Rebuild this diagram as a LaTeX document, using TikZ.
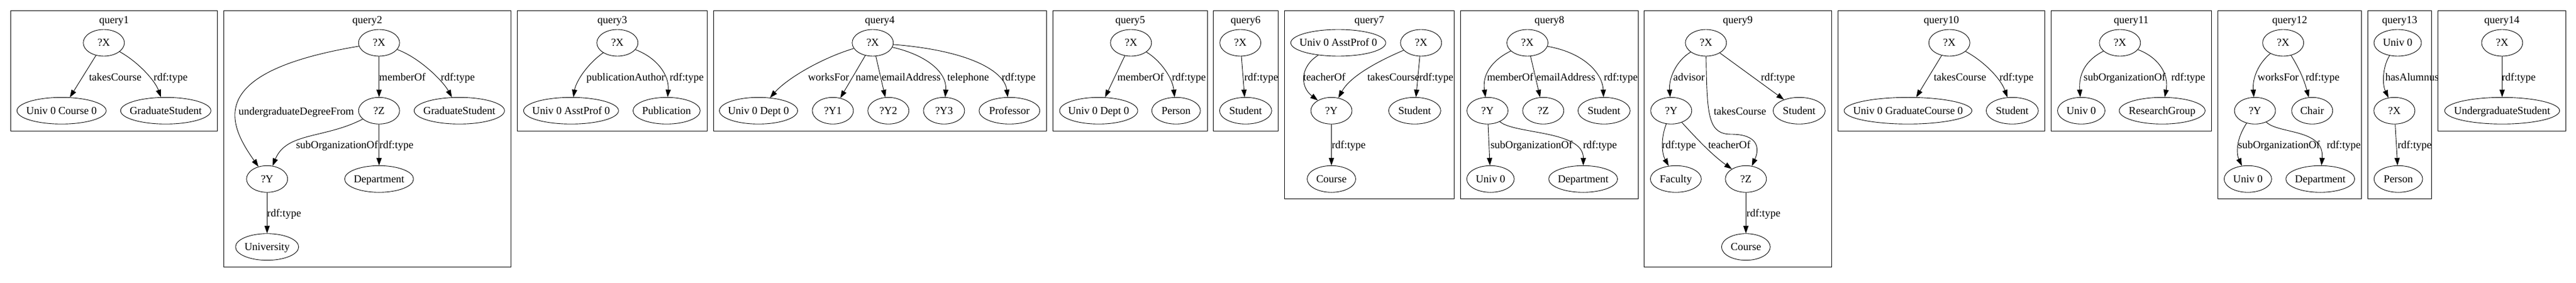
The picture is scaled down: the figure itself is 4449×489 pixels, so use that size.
\documentclass[tikz,border=0pt]{standalone}
\usepackage{fontspec}
\setmainfont{Liberation Serif}
\usetikzlibrary{shapes.geometric,arrows.meta}
\newcommand\gfont{\fontsize{18.5}{20}\selectfont}
\tikzset{
  nd/.style={draw, ellipse, line width=0.9pt, inner sep=0pt, minimum height=46pt,
             text height=12pt, text depth=0pt, font=\gfont},
  lb/.style={inner sep=0pt, text height=12pt, text depth=0pt, font=\gfont},
  cl/.style={draw, line width=1pt},
  ar/.style={line width=0.9pt, -{Triangle[length=13pt,width=9pt]}},
}
\newcommand\vn[4]{\node[nd, minimum width=#4pt] (#1) at #2 {\makebox[0pt]{#3}};}
\newcommand\el[3]{\node[lb] (#1) at #2 {#3};}
\begin{document}
\begin{tikzpicture}[x=1pt,y=-1pt]
\useasboundingbox (0,0) rectangle (4449,489);
\fill[white] (0,0) rectangle (4449,489);

% ---------- cluster frames ----------
\draw[cl] (18.5,18.5) rectangle (375.5,226.5);
\draw[cl] (386.5,18.5) rectangle (882.5,461.5);
\draw[cl] (893.5,18.5) rectangle (1221.5,226.5);
\draw[cl] (1232.5,18.5) rectangle (1807.5,226.5);
\draw[cl] (1818.5,18.5) rectangle (2085.5,226.5);
\draw[cl] (2095.5,18.5) rectangle (2207.5,226.5);
\draw[cl] (2218.5,18.5) rectangle (2511.5,343.5);
\draw[cl] (2522.5,18.5) rectangle (2829.5,343.5);
\draw[cl] (2839.5,18.5) rectangle (3163.5,461.5);
\draw[cl] (3174.5,18.5) rectangle (3531.5,226.5);
\draw[cl] (3542.5,18.5) rectangle (3819.5,226.5);
\draw[cl] (3830.5,18.5) rectangle (4078.5,343.5);
\draw[cl] (4089.5,18.5) rectangle (4199.5,343.5);
\draw[cl] (4210.5,18.5) rectangle (4431.5,226.5);

% ---------- titles ----------
\el{t1}{(197,35)}{query1}
\el{t2}{(634.4,35)}{query2}
\el{t3}{(1057.5,35)}{query3}
\el{t4}{(1519.5,35)}{query4}
\el{t5}{(1952,35)}{query5}
\el{t6}{(2151.4,35)}{query6}
\el{t7}{(2365,35)}{query7}
\el{t8}{(2676,35)}{query8}
\el{t9}{(3001.3,35)}{query9}
\el{t10}{(3353,35)}{query10}
\el{t11}{(3680.8,35)}{query11}
\el{t12}{(3954.6,35)}{query12}
\el{t13}{(4144.5,35)}{query13}
\el{t14}{(4320.9,35)}{query14}

% ---------- query1 ----------
\vn{q1x}{(179.3,74)}{?X}{71}
\vn{q1u}{(106.3,191.3)}{Univ 0 Course 0}{154}
\vn{q1g}{(286.3,191.3)}{GraduateStudent}{156}
\draw[ar] (q1x) -- (q1u);
\draw[ar] (q1x) .. controls (240,108) and (268,140) .. (q1g);
\el{q1l1}{(199,133.3)}{takesCourse}
\el{q1l2}{(294.7,133.3)}{rdf:type}

% ---------- query2 ----------
\vn{q2x}{(654.7,74)}{?X}{71}
\vn{q2z}{(654.7,191.3)}{?Z}{71}
\vn{q2g}{(793.3,191.3)}{GraduateStudent}{156}
\vn{q2y}{(461.3,309.3)}{?Y}{71}
\vn{q2d}{(654.7,309.3)}{Department}{119}
\vn{q2u}{(461.3,426.7)}{University}{109}
\draw[ar] (q2x) .. controls (350,125) and (395,215) .. (q2y);
\draw[ar] (q2x) -- (q2z);
\draw[ar] (q2z) .. controls (560,240) and (495,228) .. (q2y);
\draw[ar] (q2x) .. controls (725,100) and (765,140) .. (q2g);
\draw[ar] (q2z) -- (q2d);
\draw[ar] (q2y) -- (q2u);
\el{q2l1}{(511.7,192.3)}{undergraduateDegreeFrom}
\el{q2l2}{(695,133.3)}{memberOf}
\el{q2l3}{(790.7,133.3)}{rdf:type}
\el{q2l4}{(582,250.7)}{subOrganizationOf}
\el{q2l5}{(684.7,250.7)}{rdf:type}
\el{q2l6}{(490.7,368.3)}{rdf:type}

% ---------- query3 ----------
\vn{q3x}{(1066.3,74)}{?X}{71}
\vn{q3u}{(986.3,191.3)}{Univ 0 AsstProf 0}{164}
\vn{q3p}{(1151.3,191.3)}{Publication}{116}
\draw[ar] (q3x) .. controls (1015,110) and (995,140) .. (q3u);
\draw[ar] (q3x) .. controls (1135,100) and (1156,130) .. (q3p);
\el{q3l1}{(1080.7,133.3)}{publicationAuthor}
\el{q3l2}{(1186,133.3)}{rdf:type}

% ---------- query4 ----------
\vn{q4x}{(1507.3,74)}{?X}{71}
\vn{q4d}{(1310,191.3)}{Univ 0 Dept 0}{135}
\vn{q4a}{(1438.4,191.3)}{?Y1}{71}
\vn{q4b}{(1534.3,191.3)}{?Y2}{71}
\vn{q4c}{(1630.4,191.3)}{?Y3}{71}
\vn{q4p}{(1743.4,191.3)}{Professor}{105}
\draw[ar] (q4x) .. controls (1420,100) and (1360,135) .. (q4d);
\draw[ar] (q4x) -- (q4a);
\draw[ar] (q4x) -- (q4b);
\draw[ar] (q4x) .. controls (1600,95) and (1636,125) .. (q4c);
\draw[ar] (q4x) .. controls (1680,88) and (1735,125) .. (q4p);
\el{q4l1}{(1431,133.3)}{worksFor}
\el{q4l2}{(1497.9,133.3)}{name}
\el{q4l3}{(1573.6,133.3)}{emailAddress}
\el{q4l4}{(1672.1,133.3)}{telephone}
\el{q4l5}{(1759.3,133.3)}{rdf:type}

% ---------- query5 ----------
\vn{q5x}{(1953.3,74)}{?X}{71}
\vn{q5u}{(1897.5,191.3)}{Univ 0 Dept 0}{135}
\vn{q5p}{(2031.2,191.3)}{Person}{84}
\draw[ar] (q5x) -- (q5u);
\draw[ar] (q5x) .. controls (2005,105) and (2025,135) .. (q5p);
\el{q5l1}{(1970,133.3)}{memberOf}
\el{q5l2}{(2053.3,133.3)}{rdf:type}

% ---------- query6 ----------
\vn{q6x}{(2142.2,74)}{?X}{71}
\vn{q6s}{(2151.3,191.3)}{Student}{90}
\draw[ar] (q6x) -- (q6s);
\el{q6l1}{(2178.3,133.3)}{rdf:type}

% ---------- query7 ----------
\vn{q7a}{(2311.3,74)}{Univ 0 AsstProf 0}{164}
\vn{q7x}{(2454.3,74)}{?X}{71}
\vn{q7y}{(2299.5,191.3)}{?Y}{71}
\vn{q7s}{(2443.3,191.3)}{Student}{90}
\vn{q7c}{(2299.5,309.3)}{Course}{84}
\draw[ar] (q7a) .. controls (2245,115) and (2245,150) .. (q7y);
\draw[ar] (q7x) .. controls (2370,110) and (2330,135) .. (q7y);
\draw[ar] (q7x) -- (q7s);
\draw[ar] (q7y) -- (q7c);
\el{q7l1}{(2287.3,133.3)}{teacherOf}
\el{q7l2}{(2406.7,133.3)}{takesCourse}
\el{q7l3}{(2480.7,133.3)}{rdf:type}
\el{q7l4}{(2329.3,250.7)}{rdf:type}

% ---------- query8 ----------
\vn{q8x}{(2638,74)}{?X}{71}
\vn{q8y}{(2569,191.3)}{?Y}{71}
\vn{q8z}{(2665.3,191.3)}{?Z}{71}
\vn{q8s}{(2770.3,191.3)}{Student}{90}
\vn{q8u}{(2574.2,309.3)}{Univ 0}{82}
\vn{q8d}{(2734.2,309.3)}{Department}{119}
\draw[ar] (q8x) .. controls (2575,105) and (2560,130) .. (q8y);
\draw[ar] (q8x) -- (q8z);
\draw[ar] (q8x) .. controls (2740,92) and (2768,130) .. (q8s);
\draw[ar] (q8y) -- (q8u);
\draw[ar] (q8y) .. controls (2615,232) and (2735,225) .. (q8d);
\el{q8l1}{(2608.3,133.3)}{memberOf}
\el{q8l2}{(2704.3,133.3)}{emailAddress}
\el{q8l3}{(2799.3,133.3)}{rdf:type}
\el{q8l4}{(2645,250.7)}{subOrganizationOf}
\el{q8l5}{(2763.3,250.7)}{rdf:type}

% ---------- query9 ----------
\vn{q9x}{(2946.3,74)}{?X}{71}
\vn{q9y}{(2886.3,191.3)}{?Y}{71}
\vn{q9s}{(3107.3,191.3)}{Student}{90}
\vn{q9f}{(2894.3,309.3)}{Faculty}{88}
\vn{q9z}{(3015.3,309.3)}{?Z}{71}
\vn{q9c}{(3015.3,426.7)}{Course}{84}
\draw[ar] (q9x) .. controls (2895,105) and (2882,135) .. (q9y);
\draw[ar] (q9x) -- (q9s);
\draw[ar] (q9x) .. controls (2948,200) and (2950,232) .. (2990,232)
               .. controls (3035,232) and (3040,255) .. (q9z);
\draw[ar] (q9y) .. controls (2868,240) and (2870,265) .. (q9f);
\draw[ar] (q9y) .. controls (2935,245) and (2960,270) .. (q9z);
\draw[ar] (q9z) -- (q9c);
\el{q9l1}{(2917,133.3)}{advisor}
\el{q9l2}{(3070.7,133.3)}{rdf:type}
\el{q9l3}{(3005,192.3)}{takesCourse}
\el{q9l4}{(2899.7,250.7)}{rdf:type}
\el{q9l5}{(2986.7,250.7)}{teacherOf}
\el{q9l6}{(3045.7,368.3)}{rdf:type}

% ---------- query10 ----------
\vn{q10x}{(3366.7,74)}{?X}{71}
\vn{q10u}{(3295.3,191.3)}{Univ 0 GraduateCourse 0}{220.7}
\vn{q10s}{(3475.3,191.3)}{Student}{90}
\draw[ar] (q10x) -- (q10u);
\draw[ar] (q10x) .. controls (3425,105) and (3455,135) .. (q10s);
\el{q10l1}{(3385,133.3)}{takesCourse}
\el{q10l2}{(3482.7,133.3)}{rdf:type}

% ---------- query11 ----------
\vn{q11x}{(3661.3,74)}{?X}{71}
\vn{q11u}{(3594.5,191.3)}{Univ 0}{82}
\vn{q11r}{(3734.2,191.3)}{ResearchGroup}{148.3}
\draw[ar] (q11x) .. controls (3600,105) and (3590,130) .. (q11u);
\draw[ar] (q11x) .. controls (3730,100) and (3746,130) .. (q11r);
\el{q11l1}{(3669.3,133.3)}{subOrganizationOf}
\el{q11l2}{(3779.3,133.3)}{rdf:type}

% ---------- query12 ----------
\vn{q12x}{(3943.2,74)}{?X}{71}
\vn{q12y}{(3894.5,191.3)}{?Y}{71}
\vn{q12c}{(3993.3,191.3)}{Chair}{71}
\vn{q12u}{(3882.3,309.3)}{Univ 0}{82}
\vn{q12d}{(4007.3,309.3)}{Department}{119}
\draw[ar] (q12x) .. controls (3900,110) and (3890,135) .. (q12y);
\draw[ar] (q12x) .. controls (3972,120) and (3980,140) .. (q12c);
\draw[ar] (q12y) .. controls (3862,240) and (3862,265) .. (q12u);
\draw[ar] (q12y) .. controls (3935,232) and (4015,222) .. (q12d);
\el{q12l1}{(3934.6,133.3)}{worksFor}
\el{q12l2}{(4011.3,133.3)}{rdf:type}
\el{q12l3}{(3936,250.7)}{subOrganizationOf}
\el{q12l4}{(4047.8,250.7)}{rdf:type}

% ---------- query13 ----------
\vn{q13u}{(4141,74)}{Univ 0}{82}
\vn{q13x}{(4135.3,191.3)}{?X}{71}
\vn{q13p}{(4142.1,309.3)}{Person}{84}
\draw[ar] (q13u) .. controls (4115,115) and (4114,145) .. (q13x);
\draw[ar] (q13x) -- (q13p);
\el{q13l1}{(4165.7,133.3)}{hasAlumnus}
\el{q13l2}{(4170.3,250.7)}{rdf:type}

% ---------- query14 ----------
\vn{q14x}{(4321.4,74)}{?X}{71}
\vn{q14u}{(4321.4,191.3)}{UndergraduateStudent}{198.5}
\draw[ar] (q14x) -- (q14u);
\el{q14l1}{(4350,133.3)}{rdf:type}
\end{tikzpicture}
\end{document}
